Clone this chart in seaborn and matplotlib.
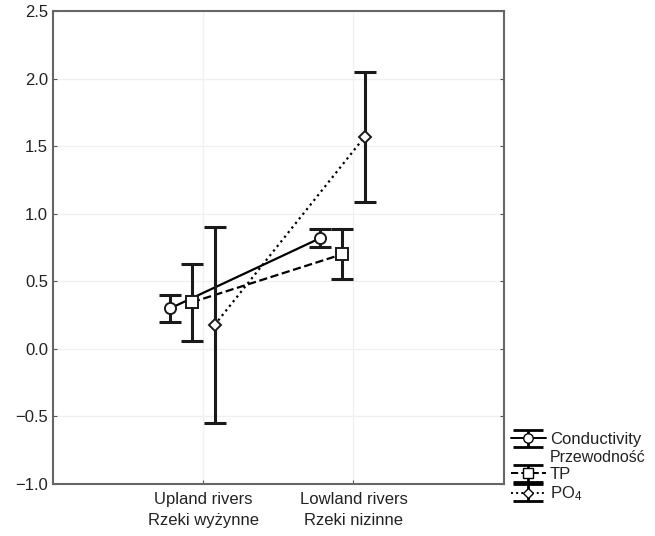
import matplotlib
matplotlib.use('Agg')
import matplotlib.pyplot as plt
import seaborn as sns
import numpy as np
import pandas as pd

# river types on x axis
categories = ['Upland rivers\nRzeki wyżynne', 'Lowland rivers\nRzeki nizinne']
x_pos = [1, 2]

series = ['Conductivity', 'TP', 'PO$_4$']
series_pl = 'Przewodność'
offsets = [-0.22, -0.075, 0.075]

cond_mean = [0.30, 0.82]
cond_low = [0.20, 0.757]
cond_high = [0.40, 0.885]

tp_mean = [0.345, 0.70]
tp_low = [0.06, 0.52]
tp_high = [0.625, 0.89]

po4_mean = [0.176, 1.57]
po4_low = [-0.545, 1.09]
po4_high = [0.905, 2.05]

means = [cond_mean, tp_mean, po4_mean]
lows = [cond_low, tp_low, po4_low]
highs = [cond_high, tp_high, po4_high]
linestyles = ['-', '--', ':']
markers = ['o', 's', 'D']
msizes = [8, 8, 6.5]

sns.set_style('white')
plt.rcParams['font.family'] = ['Liberation Sans', 'DejaVu Sans']
plt.rcParams['mathtext.fontset'] = 'custom'
plt.rcParams['mathtext.rm'] = 'Liberation Sans'
plt.rcParams['mathtext.it'] = 'Liberation Sans'

fig = plt.figure(figsize=(6.55, 5.36), dpi=100)
ax = fig.add_axes([0.081, 0.097, 0.688, 0.8825])

handles = []
for i in range(3):
    xs = np.array(x_pos) + offsets[i]
    m = np.array(means[i])
    err = [m - np.array(lows[i]), np.array(highs[i]) - m]
    df = pd.DataFrame({'x': xs, 'y': m})
    sns.lineplot(data=df, x='x', y='y', ax=ax, color='black', linestyle=linestyles[i],
                 linewidth=1.6, legend=False, zorder=2)
    ax.errorbar(xs, m, yerr=err, fmt='none', ecolor='#1a1a1a', elinewidth=2.2,
                capsize=8, capthick=2.2, zorder=3)
    ax.plot(xs, m, linestyle='none', marker=markers[i], markersize=msizes[i],
            markerfacecolor='white', markeredgecolor='#1a1a1a', markeredgewidth=1.4, zorder=4)
    h = ax.errorbar([np.nan], [np.nan], yerr=[[0.1], [0.1]], color='black',
                    linestyle=linestyles[i], linewidth=1.4, marker=markers[i],
                    markersize=msizes[i] * 0.85, markerfacecolor='white',
                    markeredgecolor='black', elinewidth=2, capsize=11, capthick=2)
    handles.append(h)

ax.set_xlim(0, 3)
ax.set_ylim(-1.0, 2.5)
ax.set_xticks(x_pos)
ax.set_xticklabels(categories, fontsize=12, color='#222222', linespacing=1.45)
ax.set_yticks(np.arange(-1.0, 2.51, 0.5))
ax.set_yticklabels([f'{v:.1f}'.replace('-', '\u2212') for v in np.arange(-1.0, 2.51, 0.5)],
                   fontsize=12, color='#222222')
ax.set_xlabel('')
ax.set_ylabel('')
ax.grid(True, color='#f0f0f0', linewidth=1)
ax.tick_params(axis='x', pad=6)
ax.tick_params(direction='in', length=3, color='#555555', top=False, right=True, bottom=True, left=True)
for s in ax.spines.values():
    s.set_color('#666666')
    s.set_linewidth(1.5)

blank = plt.Line2D([], [], linestyle='none')
leg_handles = [handles[0], blank, handles[1], handles[2]]
leg_labels = [series[0], series_pl, series[1], series[2]]
leg = fig.legend(leg_handles, leg_labels, loc='upper left', bbox_to_anchor=(0.78, 0.194),
                 frameon=False, fontsize=12, handlelength=2.1, handletextpad=0.25,
                 labelspacing=0.15, borderpad=0, borderaxespad=0)
leg.get_texts()[1].set_fontsize(11.5)
for t in leg.get_texts():
    t.set_color('#222222')

plt.savefig('out.png', dpi=100)
